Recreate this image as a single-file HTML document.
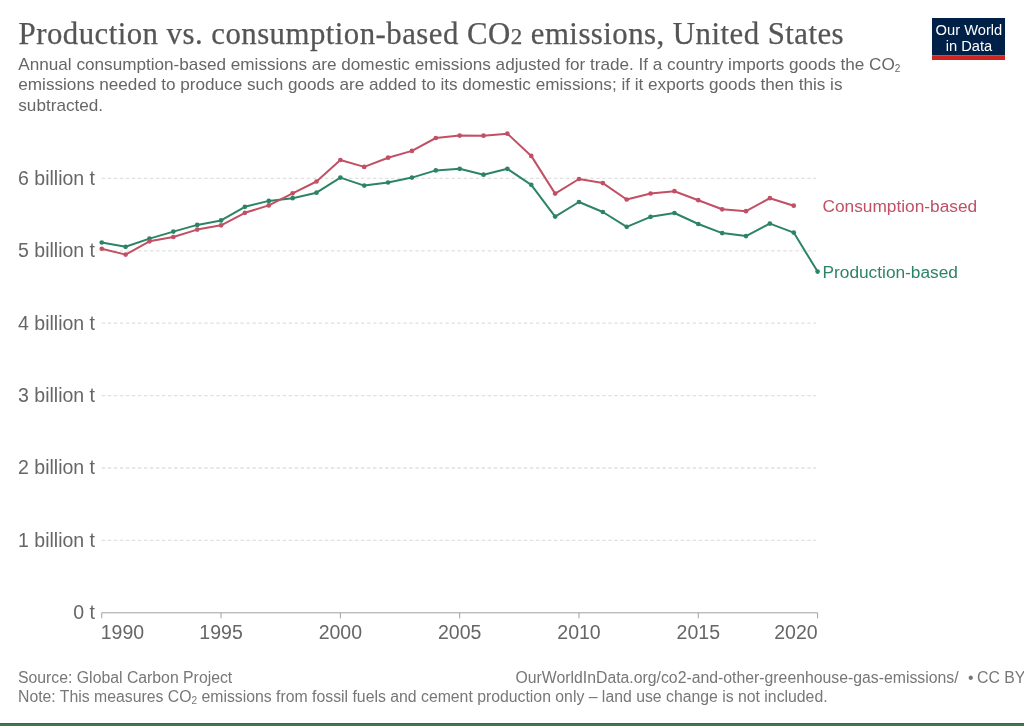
<!DOCTYPE html>
<html><head><meta charset="utf-8"><style>
html,body{margin:0;padding:0;background:#fff;width:1024px;height:726px;overflow:hidden}
svg{display:block;will-change:transform}
.ti{font-family:"Liberation Serif",serif;font-size:30.8px;fill:#555;stroke:#555;stroke-width:0.25px;letter-spacing:0.47px}
.st{font-family:"Liberation Sans",sans-serif;font-size:17.15px;fill:#666}
.ax{font-family:"Liberation Sans",sans-serif;font-size:19.5px;fill:#666}
.lb{font-family:"Liberation Sans",sans-serif;font-size:17.3px}
.ft{font-family:"Liberation Sans",sans-serif;font-size:15.8px;fill:#777}
.sub{font-size:0.7em}
</style></head><body>
<svg width="1024" height="726" viewBox="0 0 1024 726">
<rect width="1024" height="726" fill="#fff"/>
<text x="18.6" y="43.6" class="ti">Production vs. consumption-based CO<tspan style="font-size:23px">2</tspan> emissions, United States</text>
<text x="18.3" y="69.9" class="st">Annual consumption-based emissions are domestic emissions adjusted for trade. If a country imports goods the CO<tspan style="font-size:10px" dy="2.4">2</tspan></text>
<text x="18.3" y="90.3" class="st">emissions needed to produce such goods are added to its domestic emissions; if it exports goods then this is</text>
<text x="18.3" y="111.0" class="st">subtracted.</text>
<g>
<rect x="932" y="18" width="73" height="37.5" fill="#002147"/>
<rect x="932" y="55.5" width="73" height="4.5" fill="#ce261e"/>
<text x="968.9" y="34.9" text-anchor="middle" style="font-family:'Liberation Sans',sans-serif;font-size:14.7px;fill:#fff">Our World</text>
<text x="969" y="50.7" text-anchor="middle" style="font-family:'Liberation Sans',sans-serif;font-size:14.7px;fill:#fff">in Data</text>
</g>
<line x1="101.75" y1="540.40" x2="816.1" y2="540.40" stroke="#e0e0e0" stroke-width="1.3" stroke-dasharray="3.4,2.63"/>
<line x1="101.75" y1="468.00" x2="816.1" y2="468.00" stroke="#e0e0e0" stroke-width="1.3" stroke-dasharray="3.4,2.63"/>
<line x1="101.75" y1="395.60" x2="816.1" y2="395.60" stroke="#e0e0e0" stroke-width="1.3" stroke-dasharray="3.4,2.63"/>
<line x1="101.75" y1="323.20" x2="816.1" y2="323.20" stroke="#e0e0e0" stroke-width="1.3" stroke-dasharray="3.4,2.63"/>
<line x1="101.75" y1="250.80" x2="816.1" y2="250.80" stroke="#e0e0e0" stroke-width="1.3" stroke-dasharray="3.4,2.63"/>
<line x1="101.75" y1="178.40" x2="816.1" y2="178.40" stroke="#e0e0e0" stroke-width="1.3" stroke-dasharray="3.4,2.63"/>

<text x="95" y="619.20" text-anchor="end" class="ax">0 t</text>
<text x="95" y="546.80" text-anchor="end" class="ax">1 billion t</text>
<text x="95" y="474.40" text-anchor="end" class="ax">2 billion t</text>
<text x="95" y="402.00" text-anchor="end" class="ax">3 billion t</text>
<text x="95" y="329.60" text-anchor="end" class="ax">4 billion t</text>
<text x="95" y="257.20" text-anchor="end" class="ax">5 billion t</text>
<text x="95" y="184.80" text-anchor="end" class="ax">6 billion t</text>

<line x1="101.75" y1="612.8" x2="817.6" y2="612.8" stroke="#a0a0a0" stroke-width="1"/>
<line x1="101.75" y1="612.8" x2="101.75" y2="618.3" stroke="#a0a0a0" stroke-width="1"/>
<line x1="221.06" y1="612.8" x2="221.06" y2="618.3" stroke="#a0a0a0" stroke-width="1"/>
<line x1="340.37" y1="612.8" x2="340.37" y2="618.3" stroke="#a0a0a0" stroke-width="1"/>
<line x1="459.68" y1="612.8" x2="459.68" y2="618.3" stroke="#a0a0a0" stroke-width="1"/>
<line x1="578.98" y1="612.8" x2="578.98" y2="618.3" stroke="#a0a0a0" stroke-width="1"/>
<line x1="698.29" y1="612.8" x2="698.29" y2="618.3" stroke="#a0a0a0" stroke-width="1"/>
<line x1="817.60" y1="612.8" x2="817.60" y2="618.3" stroke="#a0a0a0" stroke-width="1"/>

<text x="100.75" y="639" text-anchor="start" class="ax" style="font-size:19.5px">1990</text>
<text x="221.06" y="639" text-anchor="middle" class="ax" style="font-size:19.5px">1995</text>
<text x="340.37" y="639" text-anchor="middle" class="ax" style="font-size:19.5px">2000</text>
<text x="459.68" y="639" text-anchor="middle" class="ax" style="font-size:19.5px">2005</text>
<text x="578.98" y="639" text-anchor="middle" class="ax" style="font-size:19.5px">2010</text>
<text x="698.29" y="639" text-anchor="middle" class="ax" style="font-size:19.5px">2015</text>
<text x="817.60" y="639" text-anchor="end" class="ax" style="font-size:19.5px">2020</text>

<polyline points="101.75,242.50 125.61,246.80 149.47,238.60 173.34,231.60 197.20,224.90 221.06,220.40 244.92,206.80 268.78,200.90 292.64,198.20 316.50,192.70 340.37,177.60 364.23,185.60 388.09,182.50 411.95,177.60 435.81,170.40 459.68,168.80 483.54,174.70 507.40,168.80 531.26,184.80 555.12,216.60 578.98,202.00 602.85,212.00 626.71,226.80 650.57,216.80 674.43,213.00 698.29,224.00 722.15,233.10 746.01,236.10 769.88,223.60 793.74,232.60 817.60,271.60" fill="none" stroke="#2c8465" stroke-width="2" stroke-linejoin="round" stroke-linecap="round"/>
<circle cx="101.75" cy="242.50" r="2.35" fill="#2c8465"/><circle cx="125.61" cy="246.80" r="2.35" fill="#2c8465"/><circle cx="149.47" cy="238.60" r="2.35" fill="#2c8465"/><circle cx="173.34" cy="231.60" r="2.35" fill="#2c8465"/><circle cx="197.20" cy="224.90" r="2.35" fill="#2c8465"/><circle cx="221.06" cy="220.40" r="2.35" fill="#2c8465"/><circle cx="244.92" cy="206.80" r="2.35" fill="#2c8465"/><circle cx="268.78" cy="200.90" r="2.35" fill="#2c8465"/><circle cx="292.64" cy="198.20" r="2.35" fill="#2c8465"/><circle cx="316.50" cy="192.70" r="2.35" fill="#2c8465"/><circle cx="340.37" cy="177.60" r="2.35" fill="#2c8465"/><circle cx="364.23" cy="185.60" r="2.35" fill="#2c8465"/><circle cx="388.09" cy="182.50" r="2.35" fill="#2c8465"/><circle cx="411.95" cy="177.60" r="2.35" fill="#2c8465"/><circle cx="435.81" cy="170.40" r="2.35" fill="#2c8465"/><circle cx="459.68" cy="168.80" r="2.35" fill="#2c8465"/><circle cx="483.54" cy="174.70" r="2.35" fill="#2c8465"/><circle cx="507.40" cy="168.80" r="2.35" fill="#2c8465"/><circle cx="531.26" cy="184.80" r="2.35" fill="#2c8465"/><circle cx="555.12" cy="216.60" r="2.35" fill="#2c8465"/><circle cx="578.98" cy="202.00" r="2.35" fill="#2c8465"/><circle cx="602.85" cy="212.00" r="2.35" fill="#2c8465"/><circle cx="626.71" cy="226.80" r="2.35" fill="#2c8465"/><circle cx="650.57" cy="216.80" r="2.35" fill="#2c8465"/><circle cx="674.43" cy="213.00" r="2.35" fill="#2c8465"/><circle cx="698.29" cy="224.00" r="2.35" fill="#2c8465"/><circle cx="722.15" cy="233.10" r="2.35" fill="#2c8465"/><circle cx="746.01" cy="236.10" r="2.35" fill="#2c8465"/><circle cx="769.88" cy="223.60" r="2.35" fill="#2c8465"/><circle cx="793.74" cy="232.60" r="2.35" fill="#2c8465"/><circle cx="817.60" cy="271.60" r="2.35" fill="#2c8465"/>

<polyline points="101.75,248.75 125.61,254.60 149.47,241.30 173.34,237.00 197.20,229.60 221.06,225.30 244.92,212.80 268.78,205.40 292.64,193.30 316.50,181.50 340.37,160.00 364.23,166.90 388.09,157.70 411.95,150.90 435.81,138.00 459.68,135.60 483.54,135.70 507.40,133.70 531.26,155.90 555.12,193.60 578.98,179.00 602.85,183.10 626.71,199.50 650.57,193.50 674.43,191.20 698.29,200.20 722.15,209.30 746.01,211.20 769.88,198.20 793.74,205.70" fill="none" stroke="#c15065" stroke-width="2" stroke-linejoin="round" stroke-linecap="round"/>
<circle cx="101.75" cy="248.75" r="2.35" fill="#c15065"/><circle cx="125.61" cy="254.60" r="2.35" fill="#c15065"/><circle cx="149.47" cy="241.30" r="2.35" fill="#c15065"/><circle cx="173.34" cy="237.00" r="2.35" fill="#c15065"/><circle cx="197.20" cy="229.60" r="2.35" fill="#c15065"/><circle cx="221.06" cy="225.30" r="2.35" fill="#c15065"/><circle cx="244.92" cy="212.80" r="2.35" fill="#c15065"/><circle cx="268.78" cy="205.40" r="2.35" fill="#c15065"/><circle cx="292.64" cy="193.30" r="2.35" fill="#c15065"/><circle cx="316.50" cy="181.50" r="2.35" fill="#c15065"/><circle cx="340.37" cy="160.00" r="2.35" fill="#c15065"/><circle cx="364.23" cy="166.90" r="2.35" fill="#c15065"/><circle cx="388.09" cy="157.70" r="2.35" fill="#c15065"/><circle cx="411.95" cy="150.90" r="2.35" fill="#c15065"/><circle cx="435.81" cy="138.00" r="2.35" fill="#c15065"/><circle cx="459.68" cy="135.60" r="2.35" fill="#c15065"/><circle cx="483.54" cy="135.70" r="2.35" fill="#c15065"/><circle cx="507.40" cy="133.70" r="2.35" fill="#c15065"/><circle cx="531.26" cy="155.90" r="2.35" fill="#c15065"/><circle cx="555.12" cy="193.60" r="2.35" fill="#c15065"/><circle cx="578.98" cy="179.00" r="2.35" fill="#c15065"/><circle cx="602.85" cy="183.10" r="2.35" fill="#c15065"/><circle cx="626.71" cy="199.50" r="2.35" fill="#c15065"/><circle cx="650.57" cy="193.50" r="2.35" fill="#c15065"/><circle cx="674.43" cy="191.20" r="2.35" fill="#c15065"/><circle cx="698.29" cy="200.20" r="2.35" fill="#c15065"/><circle cx="722.15" cy="209.30" r="2.35" fill="#c15065"/><circle cx="746.01" cy="211.20" r="2.35" fill="#c15065"/><circle cx="769.88" cy="198.20" r="2.35" fill="#c15065"/><circle cx="793.74" cy="205.70" r="2.35" fill="#c15065"/>

<text x="822.5" y="211.9" class="lb" fill="#c15065">Consumption-based</text>
<text x="822.5" y="277.5" class="lb" fill="#2c8465">Production-based</text>
<text x="18" y="682.6" class="ft">Source: Global Carbon Project</text>
<text x="515.5" y="682.6" class="ft">OurWorldInData.org/co2-and-other-greenhouse-gas-emissions/</text>
<text x="970.8" y="682.6" text-anchor="middle" class="ft">•</text>
<text x="977" y="682.6" class="ft">CC BY</text>
<text x="18" y="701.8" class="ft">Note: This measures CO<tspan style="font-size:10px" dy="2.2">2</tspan><tspan dy="-2.2"> emissions from fossil fuels and cement production only – land use change is not included.</tspan></text>
<rect x="0" y="723" width="1024" height="1" fill="#3a6842"/>
<rect x="0" y="724" width="1024" height="2" fill="#477450"/>
</svg>
</body></html>
